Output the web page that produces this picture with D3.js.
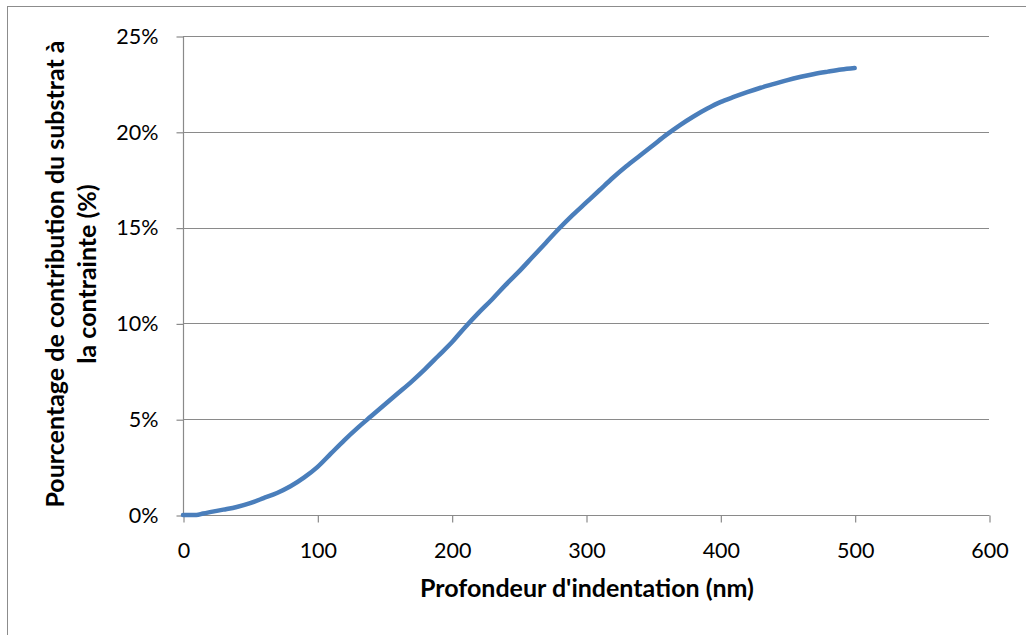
<!DOCTYPE html>
<html>
<head>
<meta charset="utf-8">
<script src="https://cdn.jsdelivr.net/npm/d3@7"></script>
<style>
  html, body { margin: 0; padding: 0; background: #fff; }
  svg { display: block; }
  text { font-family: Lato, "Open Sans", sans-serif; fill: #000; }
</style>
</head>
<body>
<svg id="chart" width="1026" height="635"></svg>
<script>
// Data: indentation depth (nm) and substrate contribution (%)
const depth = [0, 10, 15, 20, 30, 40, 50, 60, 70, 80, 90, 100, 110, 120, 130, 140, 150, 160, 170, 180, 190, 200,
  210, 220, 230, 240, 250, 260, 270, 280, 290, 300, 310, 320, 330, 340, 350, 360, 370, 380, 390, 400,
  410, 420, 430, 440, 450, 460, 470, 480, 490, 500];
const contribution = [0, 0, 0.08, 0.15, 0.28, 0.42, 0.62, 0.88, 1.15, 1.5, 1.95, 2.5, 3.2, 3.9, 4.55, 5.15, 5.75, 6.35, 6.95, 7.6, 8.3, 9.0,
  9.8, 10.55, 11.25, 12.0, 12.7, 13.45, 14.2, 14.95, 15.65, 16.3, 16.95, 17.6, 18.2, 18.75, 19.3, 19.85, 20.35, 20.8, 21.2, 21.55,
  21.82, 22.07, 22.3, 22.5, 22.7, 22.87, 23.02, 23.14, 23.25, 23.33];
const xTicks = [0, 100, 200, 300, 400, 500, 600];
const yTicks = [0, 5, 10, 15, 20, 25];
const xTitle = "Profondeur d'indentation (nm)";
const yTitleLines = ["Pourcentage de contribution du substrat à", "la contrainte (%)"];

const svg = d3.select("#chart");
const pLeft = 183, pRight = 989, pTop = 36, pBottom = 515;
const x = d3.scaleLinear().domain([0, 600]).range([pLeft, pRight]);
const y = d3.scaleLinear().domain([0, 25]).range([pBottom, pTop]);
const tickFont = "21.5px";
const titleFont = "25px";

// outer chart border
svg.append("rect").attr("x", 7.5).attr("y", 6.5).attr("width", 1040).attr("height", 650)
  .attr("fill", "none").attr("stroke", "#8c8c8c").attr("stroke-width", 1);

// gridlines
svg.append("g").selectAll("line").data(yTicks.filter(d => d > 0)).join("line")
  .attr("x1", pLeft).attr("x2", pRight)
  .attr("y1", d => Math.round(y(d)) + 0.5).attr("y2", d => Math.round(y(d)) + 0.5)
  .attr("stroke", "#8a8a8a").attr("stroke-width", 1.2);

// y axis
const yAxis = d3.axisLeft(y).tickValues(yTicks).tickSize(7).tickPadding(18).tickFormat(d => d + "%");
const gy = svg.append("g").attr("transform", `translate(${pLeft + 0.5},0.5)`).call(yAxis);
gy.selectAll("path, line").attr("stroke", "#8a8a8a").attr("stroke-width", 1.2);
gy.select(".domain").attr("d", `M0,${pTop}V${pBottom}`);
gy.selectAll("text").style("font-size", tickFont).attr("font-family", "Lato, 'Open Sans', sans-serif");

// x axis
const xAxis = d3.axisBottom(x).tickValues(xTicks).tickSize(7).tickPadding(20);
const gx = svg.append("g").attr("transform", `translate(0.5,${pBottom + 0.5})`).call(xAxis);
gx.selectAll("path, line").attr("stroke", "#8a8a8a").attr("stroke-width", 1.2);
gx.select(".domain").attr("d", `M${pLeft},0H${pRight}`);
gx.selectAll("text").style("font-size", tickFont).attr("font-family", "Lato, 'Open Sans', sans-serif")
  .attr("y", 0).attr("dy", 0).attr("transform", "translate(0,42)");

// line
const pts = depth.map((d, i) => [d, contribution[i]]);
svg.append("path").datum(pts)
  .attr("fill", "none").attr("stroke", "#4a7ebb").attr("stroke-width", 4.5)
  .attr("stroke-linecap", "round").attr("stroke-linejoin", "round")
  .attr("d", d3.line().x(d => x(d[0])).y(d => y(d[1])).curve(d3.curveMonotoneX));

// axis titles
svg.append("text").attr("x", 587).attr("y", 597).attr("text-anchor", "middle")
  .style("font-size", titleFont).style("font-weight", "bold").text(xTitle);

const yt = svg.append("text").attr("transform", "translate(0,274) rotate(-90)")
  .attr("text-anchor", "middle").style("font-size", titleFont).style("font-weight", "bold");
yTitleLines.forEach((t, i) => {
  yt.append("tspan").attr("x", 0).attr("y", 64 + i * 32).text(t);
});
</script>
</body>
</html>
